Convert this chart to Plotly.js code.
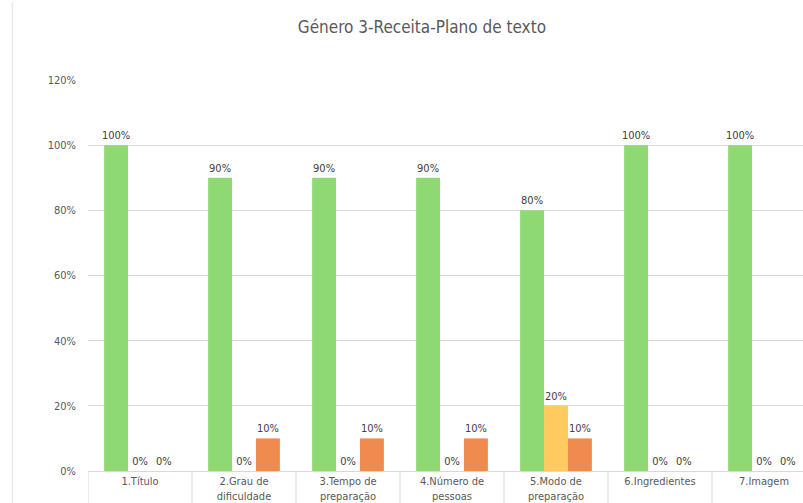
<!DOCTYPE html>
<html><head><meta charset="utf-8">
<script src="https://cdn.plot.ly/plotly-3.0.1.min.js"></script>
<style>html,body{margin:0;padding:0;overflow:hidden;background:#fff}</style>
</head><body>
<div id="chart" style="width:803px;height:503px"></div>
<script>
const categories = ["1.Título", "2.Grau de<br>dificuldade", "3.Tempo de<br>preparação", "4.Número de<br>pessoas", "5.Modo de<br>preparação", "6.Ingredientes", "7.Imagem"];
const seriesNames = ["Sim", "Parcialmente", "Não"];
const simValues = [1.00, 0.90, 0.90, 0.90, 0.80, 1.00, 1.00];
const parcialValues = [0.00, 0.00, 0.00, 0.00, 0.20, 0.00, 0.00];
const naoValues = [0.00, 0.10, 0.10, 0.10, 0.10, 0.00, 0.00];
const yTickVals = [0, 0.2, 0.4, 0.6, 0.8, 1.0, 1.2];

const font = "'Liberation Sans Narrow', 'DejaVu Sans Condensed', Roboto, sans-serif";
const colors = ["#8ed973", "#ffca5f", "#ef8b4f"];
const idx = categories.map((c, i) => i);

function bar(name, vals, color) {
  return {
    type: "bar", name: name, x: idx, y: vals,
    marker: {color: color},
    texttemplate: "%{y:.0%}", textposition: "outside", cliponaxis: false,
    constraintext: "none",
    textfont: {family: font, size: 11, color: "#404040"},
    hoverinfo: "skip"
  };
}
const data = [
  bar(seriesNames[0], simValues, colors[0]),
  bar(seriesNames[1], parcialValues, colors[1]),
  bar(seriesNames[2], naoValues, colors[2])
];

const shapes = [];
for (let i = 0; i <= categories.length; i++) {
  shapes.push({type: "line", xref: "x", yref: "paper", x0: i - 0.5, x1: i - 0.5, y0: 0, y1: -0.09,
    line: {color: "#d9d9d9", width: 1}});
}
shapes.push({type: "line", xref: "paper", yref: "paper", x0: -0.106, x1: -0.106, y0: -0.1, y1: 1.2,
  line: {color: "#e3e3e3", width: 1}});

const layout = {
  width: 803, height: 503,
  margin: {l: 88, r: 0, t: 80, b: 32, pad: 0},
  paper_bgcolor: "#fff", plot_bgcolor: "#fff",
  showlegend: false,
  barmode: "group", bargap: 0.31, bargroupgap: 0,
  title: {text: "Género 3-Receita-Plano de texto", font: {family: font, size: 17, color: "#595959"},
    x: 0.467, xref: "paper", xanchor: "center", y: 0.946, yref: "container", yanchor: "middle"},
  xaxis: {
    type: "linear", range: [-0.5, 6.375], tickvals: idx, ticktext: categories,
    showgrid: false, zeroline: false, showline: true, linecolor: "#d9d9d9", ticks: "",
    tickfont: {family: font, size: 11, color: "#595959"}, fixedrange: true
  },
  yaxis: {
    range: [0, 1.2], tickvals: yTickVals, tickformat: ".0%",
    showgrid: true, gridcolor: "#d9d9d9", zeroline: false, showline: false, ticks: "",
    ticklabelstandoff: 11,
    tickfont: {family: font, size: 11, color: "#595959"}, fixedrange: true
  },
  shapes: shapes
};
Plotly.newPlot("chart", data, layout, {displayModeBar: false, staticPlot: true});
</script>
</body></html>
